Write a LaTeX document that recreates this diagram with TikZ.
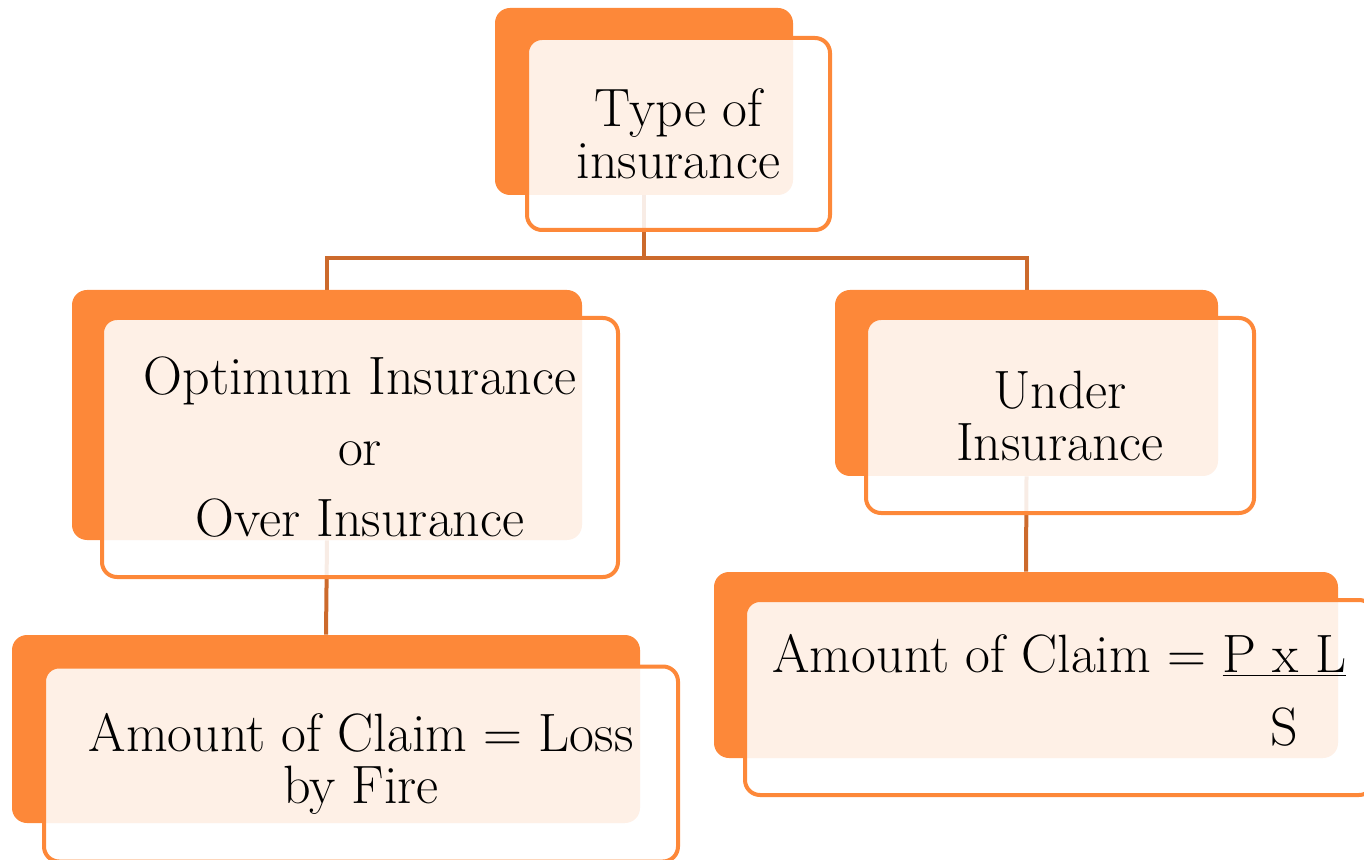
\documentclass[tikz,border=0pt]{standalone}
\usetikzlibrary{backgrounds}

\definecolor{boxorange}{RGB}{253,136,57}
\definecolor{linkbrown}{RGB}{204,106,44}

\begin{document}
\begin{tikzpicture}[x=0.5pt, y=-0.5pt,
		backbox/.style={fill=boxorange, rounded corners=7.5pt, inner sep=0pt},
		frontbox/.style={draw=boxorange, line width=2pt, fill=white, fill opacity=0.88,
			text opacity=1, rounded corners=7.5pt, inner sep=0pt, align=center,
			font=\fontsize{27}{26}\selectfont},
		link/.style={draw=linkbrown, line width=2pt}]
			\useasboundingbox (0, 0) rectangle (1364, 860);

			% top: type of insurance
			\node[backbox, minimum width=149pt, minimum height=93.5pt]	(typeback) at (644, 101.5) {};
			\node[frontbox, minimum width=151.5pt, minimum height=96pt]	(type) at (678.5, 134) {Type of\\insurance};

			% left branch
			\node[backbox, minimum width=255pt, minimum height=125pt]	(optback) at (327, 415) {};
			\node[frontbox, minimum width=258pt, minimum height=129.5pt]	(opt) at (360, 447.5)
				{Optimum Insurance\\[9.5pt]or\\[9.5pt]Over Insurance};

			\node[backbox, minimum width=314pt, minimum height=94pt]	(lossback) at (326, 729) {};
			\node[frontbox, minimum width=317pt, minimum height=97.5pt]	(loss) at (361, 764)
				{Amount of Claim = Loss\\by Fire};

			% right branch
			\node[backbox, minimum width=191.5pt, minimum height=93pt]	(underback) at (1026.5, 383) {};
			\node[frontbox, minimum width=194pt, minimum height=97.5pt]	(under) at (1060, 415.5) {Under\\Insurance};

			\node[backbox, minimum width=312pt, minimum height=93pt]	(claimback) at (1026, 665) {};
			\node[frontbox, minimum width=314.5pt, minimum height=97.5pt]	(claim) at (1059.5, 697.5)
				{\begin{tabular}{@{}r@{\ }c@{}}
					Amount of Claim = & \underline{P x L}\\[10pt]
					& S
				\end{tabular}};

			\begin{pgfonlayer}{background}
				\draw[link]	(typeback.south) -- ++(0, 63) -| (optback.north);
				\draw[link]	(typeback.south) -- ++(0, 63) -| (underback.north);
				\draw[link]	(optback.south) -- (lossback.north);
				\draw[link]	(underback.south) -- (claimback.north);
			\end{pgfonlayer}
		\end{tikzpicture}
\end{document}
